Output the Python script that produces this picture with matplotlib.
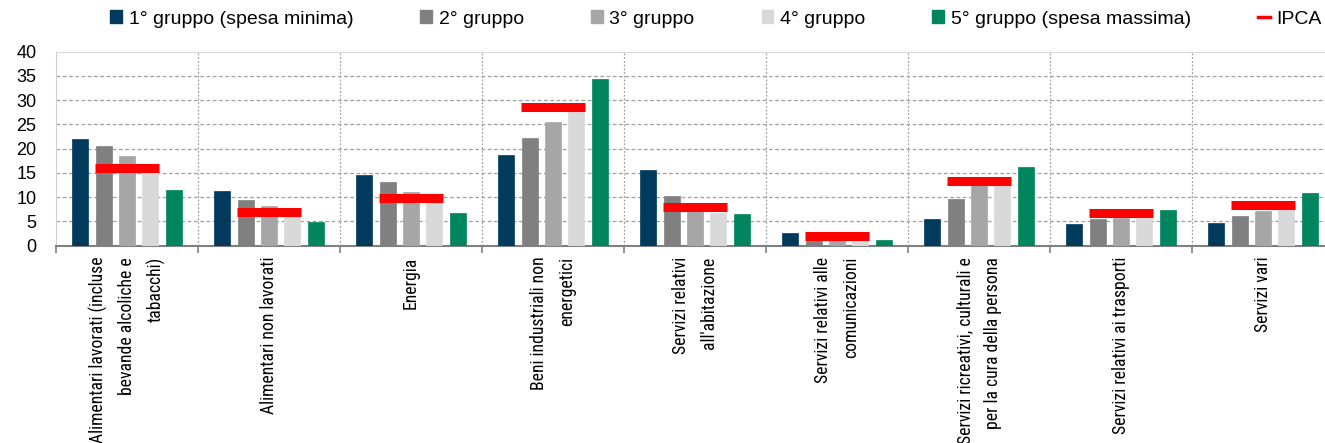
import numpy as np
import matplotlib
matplotlib.use("Agg")
import matplotlib.pyplot as plt
from matplotlib import font_manager
from matplotlib.patches import Patch
from matplotlib.lines import Line2D

categories = [
    "Alimentari lavorati (incluse\nbevande alcoliche e\ntabacchi)",
    "Alimentari non lavorati",
    "Energia",
    "Beni industriali non\nenergetici",
    "Servizi relativi\nall'abitazione",
    "Servizi relativi alle\ncomunicazioni",
    "Servizi ricreativi, culturali e\nper la cura della persona",
    "Servizi relativi ai trasporti",
    "Servizi vari",
]
group_names = ["1° gruppo (spesa minima)", "2° gruppo", "3° gruppo",
               "4° gruppo", "5° gruppo (spesa massima)"]
g1 = [21.9, 11.3, 14.6, 18.6, 15.7, 2.6, 5.5, 4.5, 4.7]
g2 = [20.6, 9.5, 13.2, 22.3, 10.2, 1.5, 9.6, 5.6, 6.1]
g3 = [18.4, 8.2, 11.0, 25.6, 7.6, 1.1, 12.5, 5.7, 7.2]
g4 = [15.5, 6.5, 9.4, 28.0, 6.7, 1.0, 13.5, 5.8, 7.7]
g5 = [11.5, 4.9, 6.7, 34.3, 6.5, 1.2, 16.2, 7.4, 10.9]
ipca = [16.0, 7.0, 9.8, 28.6, 8.0, 1.9, 13.4, 6.7, 8.4]

colors = ["#003A5D", "#808080", "#A6A6A6", "#D9D9D9", "#00855F"]

# narrow font for the category labels if one is around
installed = {f.name for f in font_manager.fontManager.ttflist}
narrow = [n for n in ["Liberation Sans Narrow", "Roboto Condensed", "DejaVu Sans Condensed"]
          if n in installed]
if narrow:
    xlab_font, xlab_size, xlab_ls = narrow[0], 12.7, 1.72
else:
    xlab_font, xlab_size, xlab_ls = "Liberation Sans", 10.2, 2.0

fig = plt.figure(figsize=(13.25, 4.43), dpi=100)
ax = fig.add_axes([56 / 1325, 1 - 245.7 / 443, 1278 / 1325, 194 / 443])

x = np.arange(len(categories))
step = 0.165
width = 0.113
for i, vals in enumerate([g1, g2, g3, g4, g5]):
    ax.bar(x + (i - 2) * step, vals, width, color=colors[i],
           edgecolor=colors[i], linewidth=0.5, zorder=3)

ax.hlines(ipca, x - 0.225, x + 0.225, colors="#FF0000", linewidth=6.5, zorder=4)

ax.set_xlim(-0.5, len(categories) - 0.5)
ax.set_ylim(0, 40)
ax.set_yticks(range(0, 41, 5))

# horizontal dashed grid
for yv in range(5, 40, 5):
    ax.axhline(yv, color="#A0A0A0", linestyle=(0, (3, 2)), linewidth=0.9, zorder=1)
# vertical dotted separators
for b in np.arange(0.5, len(categories) - 0.5, 1):
    ax.axvline(b, color="#A0A0A0", linestyle=(0, (1.5, 1.5)), linewidth=0.9, zorder=1)

ax.set_xticks(x)
ax.set_xticklabels(categories, rotation=90, va="top", ha="center",
                   multialignment="right", linespacing=xlab_ls,
                   family=[xlab_font, "DejaVu Sans"], fontsize=xlab_size)
ax.set_xticks(np.arange(-0.5, len(categories), 1), minor=True)
ax.tick_params(axis="x", which="major", length=0, pad=8)
ax.tick_params(axis="x", which="minor", length=5, width=1.2, color="#808080")
ax.tick_params(axis="y", length=0, pad=14, labelsize=13)
for lab in ax.get_yticklabels():
    lab.set_family("Liberation Sans")

ax.spines["top"].set_color("#D9D9D9")
ax.spines["right"].set_visible(False)
ax.spines["left"].set_color("#D0D0D0")
ax.spines["bottom"].set_color("#808080")
ax.spines["bottom"].set_linewidth(1.5)

handles = [Patch(facecolor=c, edgecolor=c) for c in colors]
handles.append(Line2D([0], [0], color="#FF0000", linewidth=2.5))
leg = fig.legend(handles, group_names + ["IPCA"], loc="center",
                 bbox_to_anchor=(716 / 1325, 1 - 19 / 443), ncol=6, frameon=False,
                 handlelength=0.6, handleheight=0.6, handletextpad=0.35,
                 columnspacing=3.45, prop={"family": "Liberation Sans", "size": 14})

fig.savefig("out.png", dpi=100)
